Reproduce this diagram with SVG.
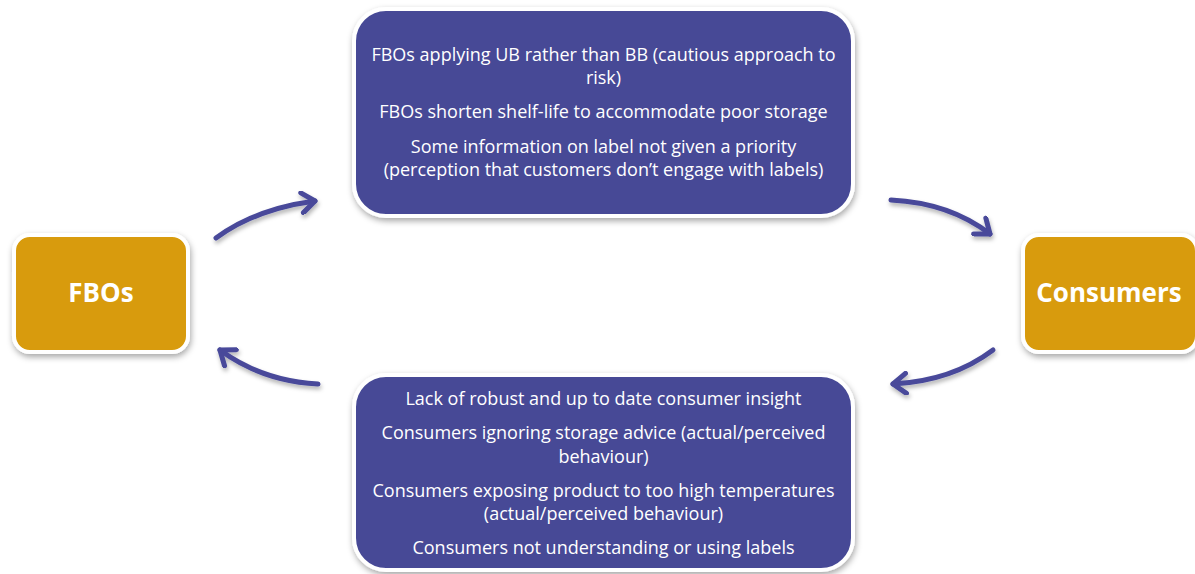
<svg xmlns="http://www.w3.org/2000/svg" width="1195" height="574" viewBox="0 0 1195 574">
  <defs>
    <filter id="shadow" x="-10%" y="-10%" width="120%" height="130%">
      <feDropShadow dx="1" dy="3" stdDeviation="3" flood-color="#000" flood-opacity="0.35"/>
    </filter>
    <filter id="ashadow" x="-20%" y="-20%" width="140%" height="160%">
      <feDropShadow dx="1" dy="3" stdDeviation="2" flood-color="#000" flood-opacity="0.3"/>
    </filter>
    <marker id="chev" viewBox="-16 -12 20 24" markerWidth="20" markerHeight="24" refX="0" refY="0" orient="auto" markerUnits="userSpaceOnUse">
      <path d="M-13,-10 L0,0 L-13,10" fill="none" stroke="#484A9A" stroke-width="5" stroke-linecap="round" stroke-linejoin="round"/>
    </marker>
    <style>
      .actor { fill: #D89B07; stroke: #FFFFFF; stroke-width: 4; filter: url(#shadow); }
      .issue { fill: #474A96; stroke: #FFFFFF; stroke-width: 4; filter: url(#shadow); }
      .actor-text { font-family: "Open Sans", "Liberation Sans", Arial, sans-serif; font-weight: bold; font-size: 26px; fill: #FFFFFF; text-anchor: middle; }
      .issue-text { font-family: "Open Sans", "Liberation Sans", Arial, sans-serif; font-size: 18px; fill: #FFFFFF; text-anchor: middle; }
      .conn { fill: none; stroke: #484A9A; stroke-width: 5; stroke-linecap: round; marker-end: url(#chev); }
    </style>
  </defs>
  <rect width="1195" height="574" fill="#FFFFFF"/>

  <g id="node-fbos">
    <rect class="actor" x="14" y="235" width="174" height="117" rx="16"/>
    <text class="actor-text" x="101" y="302">FBOs</text>
  </g>

  <g id="node-consumers">
    <rect class="actor" x="1023" y="235" width="174" height="117" rx="16"/>
    <text class="actor-text" x="1109" y="302">Consumers</text>
  </g>

  <g id="node-fbo-issues">
    <rect class="issue" x="354" y="9" width="499" height="207" rx="32"/>
    <text class="issue-text" x="603.5" y="61">FBOs applying UB rather than BB (cautious approach to</text>
    <text class="issue-text" x="603.5" y="84">risk)</text>
    <text class="issue-text" x="603.5" y="118">FBOs shorten shelf-life to accommodate poor storage</text>
    <text class="issue-text" x="603.5" y="153">Some information on label not given a priority</text>
    <text class="issue-text" x="603.5" y="176">(perception that customers don’t engage with labels)</text>
  </g>

  <g id="node-consumer-issues">
    <rect class="issue" x="354" y="375" width="499" height="195" rx="32"/>
    <text class="issue-text" x="603.5" y="405">Lack of robust and up to date consumer insight</text>
    <text class="issue-text" x="603.5" y="439">Consumers ignoring storage advice (actual/perceived</text>
    <text class="issue-text" x="603.5" y="463">behaviour)</text>
    <text class="issue-text" x="603.5" y="497">Consumers exposing product to too high temperatures</text>
    <text class="issue-text" x="603.5" y="520">(actual/perceived behaviour)</text>
    <text class="issue-text" x="603.5" y="554">Consumers not understanding or using labels</text>
  </g>

  <g id="connectors" filter="url(#ashadow)">
    <path class="conn" d="M216,238 Q255,209 315,201"/>
    <path class="conn" d="M891,200 Q950,203 990,234"/>
    <path class="conn" d="M993,350 Q952,381 893,384"/>
    <path class="conn" d="M318,384 Q262,381 220,350"/>
  </g>
</svg>
